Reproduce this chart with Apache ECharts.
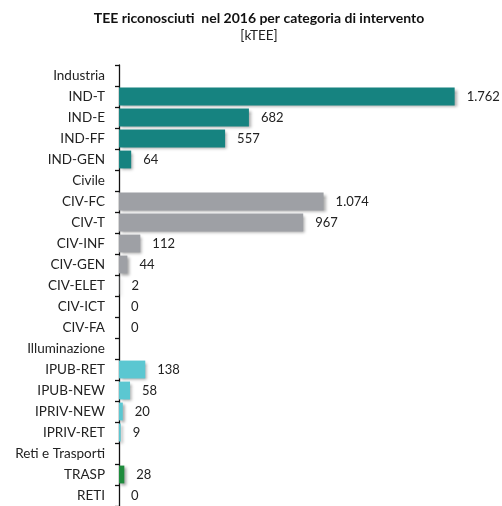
<!DOCTYPE html>
<html><head><meta charset="utf-8">
<script src="https://cdn.jsdelivr.net/npm/echarts@6/dist/echarts.min.js"></script>
<style>html,body{margin:0;padding:0;background:#fff}#c{width:502px;height:506px}</style>
</head><body><div id="c"></div>
<script>
const categories = ["Industria","IND-T","IND-E","IND-FF","IND-GEN","Civile","CIV-FC","CIV-T","CIV-INF","CIV-GEN","CIV-ELET","CIV-ICT","CIV-FA","Illuminazione","IPUB-RET","IPUB-NEW","IPRIV-NEW","IPRIV-RET","Reti e Trasporti","TRASP","RETI"];
const values = [null,1762,682,557,64,null,1074,967,112,44,2,0,0,null,138,58,20,9,null,28,0];
const groups = ["h","ind","ind","ind","ind","h","civ","civ","civ","civ","civ","civ","civ","h","ill","ill","ill","ill","h","tr","tr"];
const groupColors = {ind:"#168380", civ:"#9ea0a5", ill:"#5bc7d1", tr:"#1e8b3c", h:"#000"};
const FONT = "Lato, 'Open Sans', sans-serif";

const chart = echarts.init(document.getElementById('c'));
chart.setOption({
  animation:false,
  title:{
    text:"TEE riconosciuti  nel 2016 per categoria di intervento",
    subtext:"[kTEE]",
    left:254, textAlign:'center', top:6, itemGap:4,
    textStyle:{fontFamily:FONT,fontSize:14,fontWeight:'bold',color:'#111'},
    subtextStyle:{fontFamily:FONT,fontSize:13.5,color:'#222'}
  },
  grid:{left:119,right:2,top:65,bottom:-3,containLabel:false},
  xAxis:{type:'value',min:0,max:2000,show:false},
  yAxis:{
    type:'category',inverse:true,data:categories,
    axisLine:{lineStyle:{color:'#111',width:1.3}},
    axisTick:{show:true,length:4,inside:false,lineStyle:{color:'#111',width:1.3}},
    axisLabel:{fontFamily:FONT,fontSize:13.5,color:'#222',margin:14}
  },
  series:[{
    type:'bar',
    barCategoryGap:'15%',
    data:values.map((v,i)=>({value:v,itemStyle:{color:groupColors[groups[i]]}})),
    itemStyle:{shadowColor:'rgba(0,0,0,0.35)',shadowBlur:3,shadowOffsetX:2,shadowOffsetY:2},
    label:{
      show:true,position:'right',distance:12,
      fontFamily:FONT,fontSize:13,color:'#222',
      formatter:p=>p.value==null?'':String(p.value).replace(/\B(?=(\d{3})+(?!\d))/g,'.')
    }
  }]
});
</script></body></html>
